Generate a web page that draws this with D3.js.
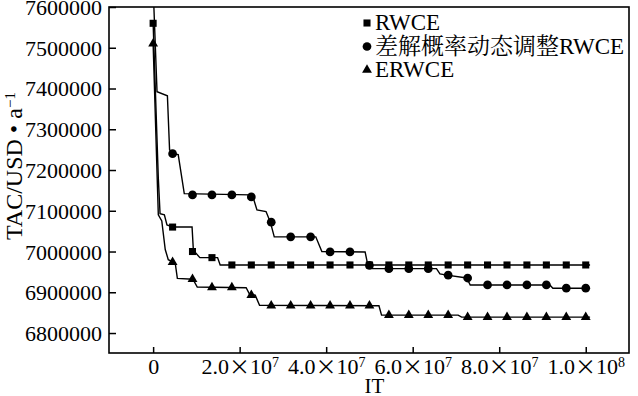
<!DOCTYPE html>
<html lang="zh">
<head>
<meta charset="UTF-8">
<script src="https://d3js.org/d3.v7.min.js"></script>
<style>
    body { margin: 0; background: #fff; }
    svg { display: block; }
    text { font-family: "Liberation Serif", "Times New Roman", "Noto Serif CJK SC", "Noto Sans CJK SC", serif; fill: #000; }
</style>
</head>
<body>
<div class="fig"></div>
<script>
    // x of the markers, in units of 1e6 iterations
    const markerIT = [0, 4.5, 9.1, 13.6, 18.2, 22.7, 27.3, 31.8, 36.4, 40.9, 45.5, 50.0,
                      54.5, 59.1, 63.6, 68.2, 72.7, 77.3, 81.8, 86.4, 90.9, 95.5, 100];

    // marker values (TAC, USD per year)
    const rwceMarks = [7560000, 7060000, 7000000, 6985000, 6967000, 6967000, 6967000, 6967000,
                       6967000, 6967000, 6967000, 6967000, 6967000, 6967000, 6967000, 6967000,
                       6967000, 6967000, 6967000, 6967000, 6967000, 6967000, 6967000];
    const diffMarks = [null, 7240000, 7139000, 7139000, 7139000, 7134000, 7072000, 7036000,
                       7036000, 6999000, 6999000, 6966000, 6958000, 6958000, 6958000, 6942000,
                       6935000, 6918000, 6918000, 6918000, 6918000, 6910000, 6910000];
    const erwceMarks = [7510000, 6974000, 6932000, 6912000, 6912000, 6893000, 6867000, 6867000,
                        6867000, 6867000, 6867000, 6867000, 6844000, 6844000, 6844000, 6844000,
                        6839000, 6839000, 6839000, 6839000, 6839000, 6839000, 6839000];

    // convergence curves [IT (1e6), TAC]
    const rwceLine = [[0, 7560000], [1.2, 7180000], [1.6, 7093000], [2.6, 7090000], [3.2, 7065000],
                      [4.6, 7060000], [9.0, 7060000], [9.3, 7003000], [10.8, 6985000],
                      [14.9, 6985000], [15.5, 6967000], [101, 6967000]];
    const diffLine = [[0, 7650000], [0.9, 7392000], [3.3, 7382000], [3.8, 7250000], [4.6, 7240000],
                      [5.8, 7238000], [7.2, 7142000], [22.4, 7139000], [23.2, 7130000],
                      [24.0, 7102000], [26.1, 7098000], [27.1, 7072000], [28.0, 7036000],
                      [37.6, 7036000], [39.0, 7000000], [49.0, 6999000], [49.7, 6963000],
                      [50.6, 6958000], [65.5, 6958000], [66.3, 6945000], [67.9, 6942000],
                      [72.5, 6935000], [73.3, 6918000], [91.7, 6918000], [92.4, 6910000],
                      [101, 6910000]];
    const erwceLine = [[0, 7510000], [1.2, 7090000], [2.0, 7075000], [2.8, 7005000], [3.5, 6980000],
                       [4.6, 6974000], [5.1, 6972000], [5.6, 6934000], [9.2, 6932000],
                       [10.2, 6913000], [21.5, 6911000], [22.3, 6895000], [23.6, 6893000],
                       [24.6, 6868000], [52.2, 6867000], [52.8, 6844000], [70.5, 6844000],
                       [71.3, 6839000], [101, 6839000]];

    const yTicks = [6800000, 6900000, 7000000, 7100000, 7200000, 7300000, 7400000, 7500000, 7600000];
    const xTicks = [0, 20, 40, 60, 80, 100];
    const xTickLabels = [["0", "", ""], ["2.0", "10", "7"], ["4.0", "10", "7"], ["6.0", "10", "7"],
                         ["8.0", "10", "7"], ["1.0", "10", "8"]];
    const legendNames = ["RWCE", "差解概率动态调整RWCE", "ERWCE"];

    const width = 638, height = 396;
    const margin = {top: 7, right: 9, bottom: 43, left: 109};
    const w = width - margin.left - margin.right;
    const h = height - margin.top - margin.bottom;

    const svg = d3.select(".fig").append("svg")
        .attr("width", width)
        .attr("height", height);

    const g = svg.append("g").attr("transform", `translate(${margin.left},${margin.top})`);

    const x = d3.scaleLinear().domain([-10.2, 110]).range([0, w]);
    const y = d3.scaleLinear().domain([6751000, 7600000]).range([h, 0]);

    g.append("clipPath").attr("id", "plotclip")
        .append("rect").attr("width", w).attr("height", h);

    // y axis, ticks pointing inside
    const yAxis = g.append("g")
        .call(d3.axisLeft(y).tickValues(yTicks).tickFormat(d3.format("d"))
            .tickSizeInner(-7).tickSizeOuter(0).tickPadding(7));
    yAxis.select(".domain").remove();
    yAxis.selectAll("line").attr("stroke", "#000").attr("stroke-width", 1.5);
    yAxis.selectAll("text").style("font-size", "22px").attr("dy", "0.34em");

    // x axis
    const xAxis = g.append("g")
        .attr("transform", `translate(0,${h})`)
        .call(d3.axisBottom(x).tickValues(xTicks).tickFormat("")
            .tickSizeInner(-6).tickSizeOuter(0).tickPadding(5));
    xAxis.select(".domain").remove();
    xAxis.selectAll("line").attr("stroke", "#000").attr("stroke-width", 1.5);
    xAxis.selectAll("text").each(function(d, i) {
        const t = d3.select(this).style("font-size", "22px");
        const [base, pow, sup] = xTickLabels[i];
        t.append("tspan").text(base);
        if (sup) {
            t.append("tspan").style("font-family", "'Noto Sans CJK SC'").style("font-size", "21px").text("×");
            t.append("tspan").text(pow);
            t.append("tspan").attr("dy", "-0.45em").style("font-size", "14px").text(sup);
        }
    });

    // frame
    g.append("rect")
        .attr("width", w).attr("height", h)
        .attr("fill", "none").attr("stroke", "#000").attr("stroke-width", 1.6);

    const line = d3.line().x(d => x(d[0])).y(d => y(d[1]));
    const plot = g.append("g").attr("clip-path", "url(#plotclip)");

    const series = [
        {line: rwceLine, marks: rwceMarks, symbol: d3.symbolSquare, size: 50},
        {line: diffLine, marks: diffMarks, symbol: d3.symbolCircle, size: 60},
        {line: erwceLine, marks: erwceMarks, symbol: d3.symbolTriangle, size: 42}
    ];

    series.forEach(s => {
        plot.append("path")
            .attr("d", line(s.line))
            .attr("fill", "none")
            .attr("stroke", "#000")
            .attr("stroke-width", 1.4);
        plot.selectAll(null)
            .data(s.marks.map((v, i) => [markerIT[i], v]).filter(d => d[1] !== null))
            .enter()
            .append("path")
            .attr("d", d3.symbol().type(s.symbol).size(s.size))
            .attr("transform", d => `translate(${x(d[0])},${y(d[1])})`)
            .attr("fill", "#000");
    });

    // legend
    const legend = svg.append("g").attr("transform", "translate(367,23)");
    series.forEach((s, i) => {
        legend.append("path")
            .attr("d", d3.symbol().type(s.symbol).size(s.size))
            .attr("transform", `translate(0,${i * 23.5})`)
            .attr("fill", "#000");
        legend.append("text")
            .attr("x", 8)
            .attr("y", i * 23.5 + 7)
            .style("font-size", "23px")
            .text(legendNames[i]);
    });

    // axis titles
    svg.append("text")
        .attr("x", margin.left + x(50) + 5)
        .attr("y", 393)
        .attr("text-anchor", "middle")
        .style("font-size", "21px")
        .text("IT");

    const yTitle = svg.append("text")
        .attr("transform", "translate(22,166) rotate(-90)")
        .attr("text-anchor", "middle")
        .style("font-size", "24px");
    yTitle.append("tspan").text("TAC/USD • a");
    yTitle.append("tspan").attr("dy", "-0.45em").style("font-size", "15px").text("−1");
</script>
</body>
</html>
